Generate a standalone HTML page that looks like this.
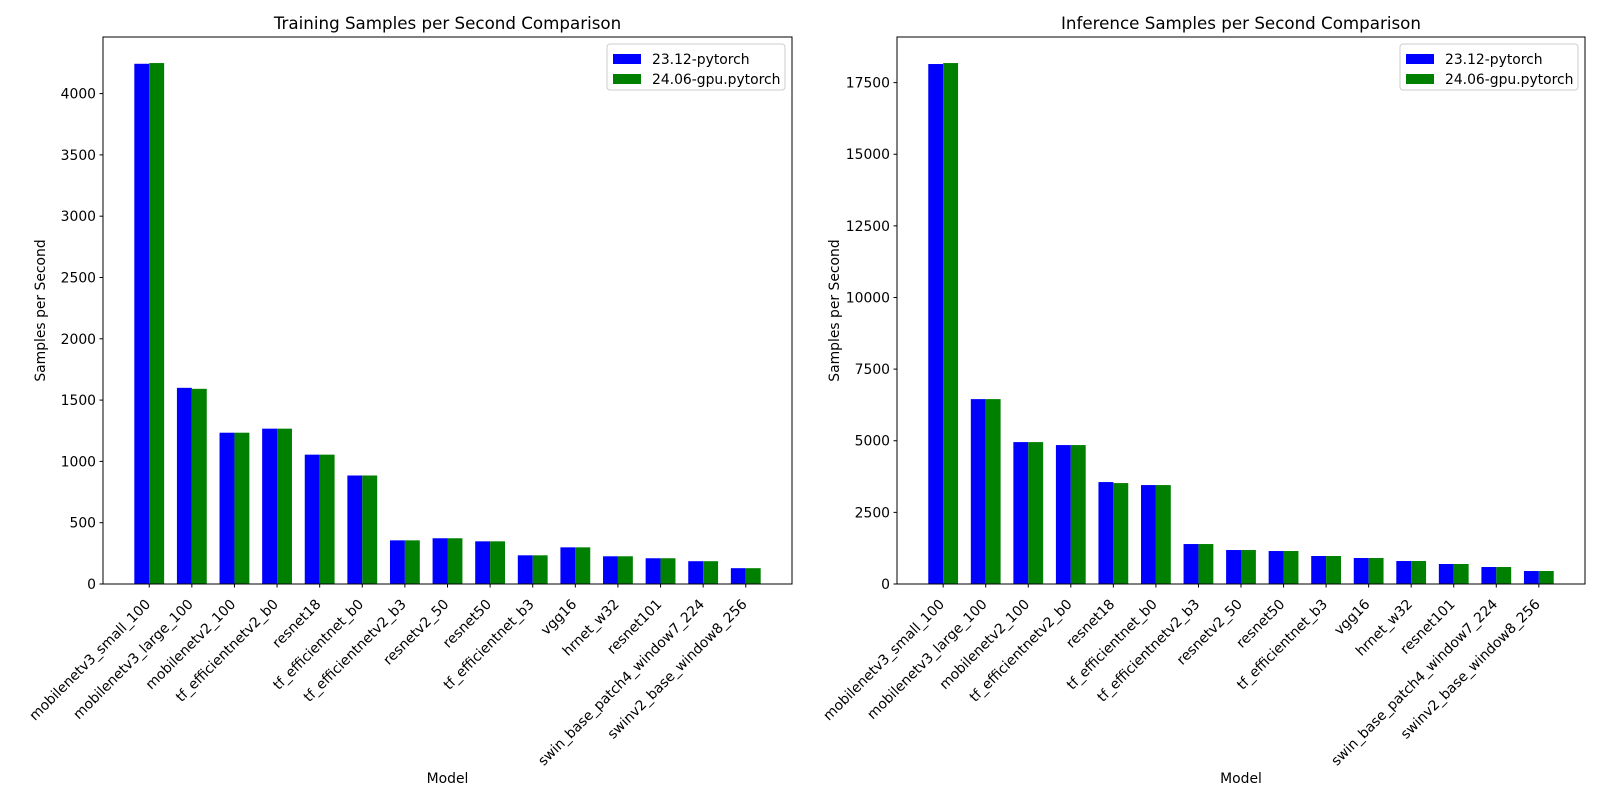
<!DOCTYPE html>
<html><head><meta charset="utf-8"><style>
html,body{margin:0;padding:0;background:#fff;}
svg{display:block;font-family:"DejaVu Sans","Liberation Sans",sans-serif;}
</style></head><body>
<svg id="fig" width="1600" height="800" xmlns="http://www.w3.org/2000/svg"></svg>
<script>
const categories = ["mobilenetv3_small_100","mobilenetv3_large_100","mobilenetv2_100","tf_efficientnetv2_b0","resnet18","tf_efficientnet_b0","tf_efficientnetv2_b3","resnetv2_50","resnet50","tf_efficientnet_b3","vgg16","hrnet_w32","resnet101","swin_base_patch4_window7_224","swinv2_base_window8_256"];
const seriesNames = ["23.12-pytorch","24.06-gpu.pytorch"];
const trainOld = [4243,1600,1234,1267,1055,885,356,373,348,234,299,226,210,186,129];
const trainNew = [4249,1592,1234,1267,1055,885,356,373,348,234,299,226,210,186,129];
const inferOld = [18149,6453,4953,4849,3558,3453,1395,1186,1151,977,907,802,698,593,453];
const inferNew = [18183,6453,4953,4849,3523,3453,1395,1186,1151,977,907,802,698,593,453];
const trainTicks = [0,500,1000,1500,2000,2500,3000,3500,4000];
const inferTicks = [0,2500,5000,7500,10000,12500,15000,17500];

const NS="http://www.w3.org/2000/svg";
const svg=document.getElementById('fig');
function mk(tag,attrs,parent,text){const e=document.createElementNS(NS,tag);for(const k in attrs)e.setAttribute(k,attrs[k]);if(text!==undefined)e.textContent=text;(parent||svg).appendChild(e);return e;}

function drawChart(prefix,L,R,title,oldV,newV,ticks){
  const T=37,B=584;
  const g=mk('g',{});
  
  
  const n=categories.length;
  const xmin=-0.35-0.05*(n-1+0.7), xmax=(n-1)+0.35+0.05*(n-1+0.7);
  const xs=v=>L+(v-xmin)/(xmax-xmin)*(R-L);
  const ymax=Math.max(...oldV,...newV)*1.05;
  const ys=v=>B-v/ymax*(B-T);
  const w=0.35;
  for(let i=0;i<n;i++){
    const r1=mk('rect',{x:xs(i-w),y:ys(oldV[i]),width:xs(i)-xs(i-w),height:B-ys(oldV[i]),fill:'#0000ff'},g);
    
    
    const r2=mk('rect',{x:xs(i),y:ys(newV[i]),width:xs(i+w)-xs(i),height:B-ys(newV[i]),fill:'#008000'},g);
    
    
    const tx=xs(i);
    mk('line',{x1:tx,y1:B,x2:tx,y2:B+3.5,stroke:'#000','stroke-width':1},g);
    const t=mk('text',{x:tx+2,y:605,'text-anchor':'end','font-size':'13.9px',fill:'#000',transform:`rotate(-45 ${tx+2} 605)`},g,categories[i]);
    
    
  }
  ticks.forEach(v=>{
    const y=ys(v);
    mk('line',{x1:L-3.5,y1:y,x2:L,y2:y,stroke:'#000','stroke-width':1},g);
    const t=mk('text',{x:L-7,y:y+5,'text-anchor':'end','font-size':'13.9px',fill:'#000'},g,String(v));
    
    
  });
  const fr=mk('rect',{x:L,y:T,width:R-L,height:B-T,fill:'none',stroke:'#000','stroke-width':1},g);
  
  
  const tt=mk('text',{x:(L+R)/2,y:29,'text-anchor':'middle','font-size':'16.7px',fill:'#000'},g,title);
  
  
  const xl=mk('text',{x:(L+R)/2,y:783,'text-anchor':'middle','font-size':'13.9px',fill:'#000'},g,'Model');
  
  
  const ylx=L-58, yly=(T+B)/2;
  const yl=mk('text',{x:ylx,y:yly,'text-anchor':'middle','font-size':'13.9px',fill:'#000',transform:`rotate(-90 ${ylx} ${yly})`},g,'Samples per Second');
  
  
  // legend
  const lx=R-185, ly=44;
  const lg=mk('g',{},g);
  
  
  mk('rect',{x:lx,y:ly,width:178,height:46,rx:3,fill:'#fff','fill-opacity':0.8,stroke:'#cccccc','stroke-width':1},lg);
  const cols=['#0000ff','#008000'];
  seriesNames.forEach((s,k)=>{
    const yy=ly+11+k*20;
    const e=mk('g',{},lg);
    
    
    mk('rect',{x:lx+6,y:yy-1,width:28,height:10,fill:cols[k]},e);
    mk('text',{x:lx+45,y:yy+9,'font-size':'13.9px',fill:'#000'},e,s);
  });
}
drawChart('training',103,792,'Training Samples per Second Comparison',trainOld,trainNew,trainTicks);
drawChart('inference',897,1585,'Inference Samples per Second Comparison',inferOld,inferNew,inferTicks);
</script>
</body></html>
